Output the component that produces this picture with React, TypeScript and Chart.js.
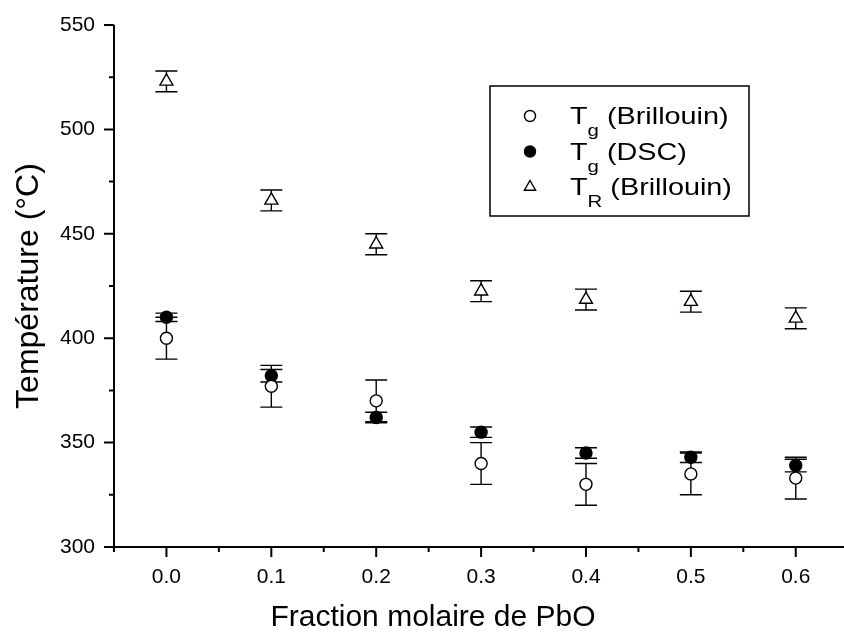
import React, { useEffect, useRef } from "react";
import { Chart, registerables } from "chart.js";

Chart.register(...registerables);

// ---- data ----
const fractions = [0.0, 0.1, 0.2, 0.3, 0.4, 0.5, 0.6];
const tgBrillouin = [400, 377, 370, 340, 330, 335, 333];
const tgBrillouinErr = [10, 10, 10, 10, 10, 10, 10];
const tgDSC = [410, 382, 362, 355, 345, 343, 339];
const tgDSCErr = [2, 3, 2.5, 2.5, 2.5, 2.5, 3];
const tR = [523, 466, 445, 422.5, 418.5, 417.5, 409.5];
const tRErr = [5, 5, 5, 5, 5, 5, 5];

const xMajorTicks = [0.0, 0.1, 0.2, 0.3, 0.4, 0.5, 0.6];
const xMinorTicks = [-0.05, 0.05, 0.15, 0.25, 0.35, 0.45, 0.55, 0.65];
const yMajorTicks = [300, 350, 400, 450, 500, 550];
const yMinorTicks = [325, 375, 425, 475, 525];

const xTitle = "Fraction molaire de PbO";
const yTitle = "Température (°C)";
const legendItems = [
  { main: "T", sub: "g", rest: " (Brillouin)", style: "openCircle" },
  { main: "T", sub: "g", rest: " (DSC)", style: "filledCircle" },
  { main: "T", sub: "R", rest: " (Brillouin)", style: "openTriangle" },
];

const FONT = "'Liberation Sans', Arial, sans-serif";

const errorBarPlugin = {
  id: "errorBars",
  beforeDatasetsDraw(chart: any) {
    const ctx = chart.ctx;
    const xs = chart.scales.x;
    const ys = chart.scales.y;
    const sets = [
      { v: tgBrillouin, e: tgBrillouinErr },
      { v: tgDSC, e: tgDSCErr },
      { v: tR, e: tRErr },
    ];
    ctx.save();
    ctx.strokeStyle = "#000";
    ctx.lineWidth = 1.4;
    sets.forEach((s) => {
      fractions.forEach((f, i) => {
        const px = xs.getPixelForValue(f);
        const top = ys.getPixelForValue(s.v[i] + s.e[i]);
        const bot = ys.getPixelForValue(s.v[i] - s.e[i]);
        ctx.beginPath();
        ctx.moveTo(px, top);
        ctx.lineTo(px, bot);
        ctx.moveTo(px - 11, top);
        ctx.lineTo(px + 11, top);
        ctx.moveTo(px - 11, bot);
        ctx.lineTo(px + 11, bot);
        ctx.stroke();
      });
    });
    ctx.restore();
  },
};

const decorPlugin = {
  id: "decor",
  afterDraw(chart: any) {
    const ctx = chart.ctx;
    const xs = chart.scales.x;
    const ys = chart.scales.y;
    const area = chart.chartArea;
    ctx.save();
    ctx.strokeStyle = "#000";
    ctx.fillStyle = "#000";
    ctx.lineWidth = 2;
    // axes
    ctx.beginPath();
    ctx.moveTo(area.left, area.top);
    ctx.lineTo(area.left, area.bottom);
    ctx.lineTo(area.right, area.bottom);
    ctx.stroke();
    // ticks
    ctx.beginPath();
    yMajorTicks.forEach((v) => {
      const p = ys.getPixelForValue(v);
      ctx.moveTo(area.left, p);
      ctx.lineTo(area.left - 10, p);
    });
    yMinorTicks.forEach((v) => {
      const p = ys.getPixelForValue(v);
      ctx.moveTo(area.left, p);
      ctx.lineTo(area.left - 5, p);
    });
    xMajorTicks.forEach((v) => {
      const p = xs.getPixelForValue(v);
      ctx.moveTo(p, area.bottom);
      ctx.lineTo(p, area.bottom + 10);
    });
    xMinorTicks.forEach((v) => {
      const p = xs.getPixelForValue(v);
      if (p > area.right + 1) return;
      ctx.moveTo(p, area.bottom);
      ctx.lineTo(p, area.bottom + 5);
    });
    ctx.stroke();

    // axis titles
    ctx.font = `30px ${FONT}`;
    ctx.textAlign = "center";
    ctx.textBaseline = "middle";
    ctx.fillText(xTitle, 433, 618);
    ctx.save();
    ctx.font = `32px ${FONT}`;
    ctx.translate(29, (area.top + area.bottom) / 2);
    ctx.rotate(-Math.PI / 2);
    ctx.fillText(yTitle, 0, 0);
    ctx.restore();

    // legend
    ctx.lineWidth = 1.5;
    ctx.strokeRect(490, 86, 259, 130);
    const rowBase = [124, 159.5, 195];
    legendItems.forEach((it, i) => {
      const cy = rowBase[i] - 8;
      const sx = 530;
      ctx.lineWidth = 1.4;
      ctx.beginPath();
      if (it.style === "openTriangle") {
        const r = 6.5;
        ctx.moveTo(sx, cy - r);
        ctx.lineTo(sx + r * 0.866, cy + r * 0.5);
        ctx.lineTo(sx - r * 0.866, cy + r * 0.5);
        ctx.closePath();
        ctx.fillStyle = "#fff";
        ctx.fill();
        ctx.stroke();
      } else {
        ctx.arc(sx, cy, 5.5, 0, Math.PI * 2);
        ctx.fillStyle = it.style === "filledCircle" ? "#000" : "#fff";
        ctx.fill();
        ctx.stroke();
      }
      ctx.fillStyle = "#000";
      ctx.textAlign = "left";
      ctx.textBaseline = "alphabetic";
      ctx.save();
      ctx.translate(570, rowBase[i]);
      ctx.scale(1.2, 1);
      ctx.font = `24px ${FONT}`;
      let x = 0;
      ctx.fillText(it.main, x, 0);
      x += ctx.measureText(it.main).width;
      ctx.font = `17px ${FONT}`;
      ctx.fillText(it.sub, x, 12);
      x += ctx.measureText(it.sub).width;
      ctx.font = `24px ${FONT}`;
      ctx.fillText(it.rest, x, 0);
      ctx.restore();
    });
    ctx.restore();
  },
};

export default function App() {
  const ref = useRef<HTMLCanvasElement | null>(null);
  useEffect(() => {
    document.body.style.margin = "0";
    document.body.style.overflow = "hidden";
    if (!ref.current) return;
    const mk = (vals: number[]) => fractions.map((f, i) => ({ x: f, y: vals[i] }));
    const chart = new Chart(ref.current, {
      type: "scatter",
      data: {
        datasets: [
          {
            label: "Tg (Brillouin)",
            data: mk(tgBrillouin),
            pointStyle: "circle",
            pointRadius: 6,
            backgroundColor: "#fff",
            borderColor: "#000",
            borderWidth: 1.4,
          },
          {
            label: "Tg (DSC)",
            data: mk(tgDSC),
            pointStyle: "circle",
            pointRadius: 6,
            backgroundColor: "#000",
            borderColor: "#000",
            borderWidth: 1.4,
          },
          {
            label: "TR (Brillouin)",
            data: mk(tR),
            pointStyle: "triangle",
            pointRadius: 7.5,
            backgroundColor: "#fff",
            borderColor: "#000",
            borderWidth: 1.4,
          },
        ],
      },
      options: {
        animation: false,
        responsive: false,
        devicePixelRatio: 1,
        layout: { autoPadding: false, padding: { top: 25, right: 0, left: 0, bottom: 0 } },
        plugins: {
          legend: { display: false },
          tooltip: { enabled: false },
        },
        scales: {
          x: {
            type: "linear",
            min: -0.05,
            max: 0.646,
            grid: { display: false, drawTicks: false },
            border: { display: false },
            afterBuildTicks: (s: any) => {
              s.ticks = xMajorTicks.map((v) => ({ value: v }));
            },
            afterFit: (s: any) => {
              s.height = 86;
              s.paddingLeft = 0;
              s.paddingRight = 0;
            },
            ticks: {
              color: "#000",
              font: { family: FONT, size: 21 },
              padding: 18,
              maxRotation: 0,
              autoSkip: false,
              callback: (v: any) => Number(v).toFixed(1),
            },
          },
          y: {
            type: "linear",
            min: 300,
            max: 550,
            grid: { display: false, drawTicks: false },
            border: { display: false },
            afterBuildTicks: (s: any) => {
              s.ticks = yMajorTicks.map((v) => ({ value: v }));
            },
            afterFit: (s: any) => {
              s.width = 114;
              s.paddingTop = 0;
              s.paddingBottom = 0;
            },
            ticks: {
              color: "#000",
              font: { family: FONT, size: 21 },
              padding: 19,
              autoSkip: false,
              callback: (v: any) => String(v),
            },
          },
        },
      },
      plugins: [errorBarPlugin, decorPlugin],
    } as any);
    return () => chart.destroy();
  }, []);
  return (
    <div style={{ width: 844, height: 633, position: "relative", background: "#fff" }}>
      <canvas ref={ref} width={844} height={633} />
    </div>
  );
}
